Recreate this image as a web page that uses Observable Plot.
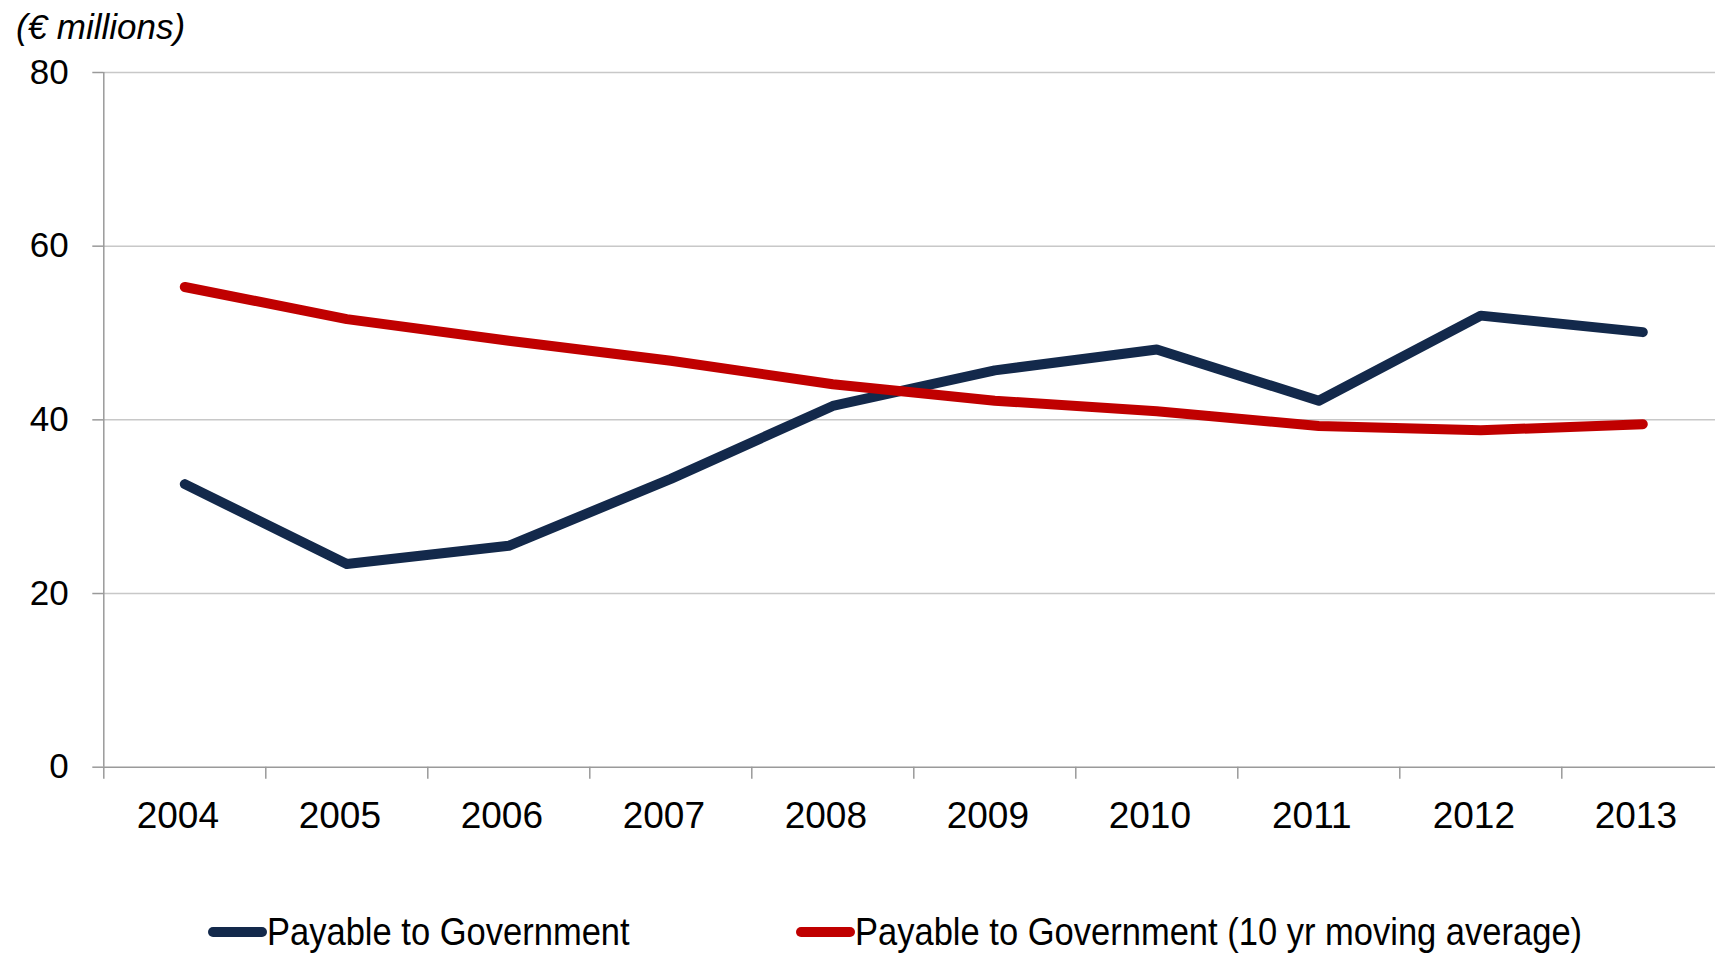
<!DOCTYPE html>
<html>
<head>
<meta charset="utf-8">
<script src="https://cdn.jsdelivr.net/npm/d3@7"></script>
<script src="https://cdn.jsdelivr.net/npm/@observablehq/plot@0.6"></script>
<style>
  html, body { margin: 0; padding: 0; background: white; overflow: hidden; }
  body { width: 1715px; height: 954px; font-family: "Liberation Sans", Arial, sans-serif; }
  #title { height: 44px; line-height: 44px; padding-top: 5px; padding-left: 16px; font-size: 35px; font-style: italic; color: #000; }
  #legend { position: relative; height: 100px; }
  .item { position: absolute; top: 58px; height: 40px; display: flex; align-items: center; color: #000; white-space: nowrap; }
  .sw { width: 59px; height: 10px; border-radius: 5px; flex: none; }
  .tx { font-size: 39px; display: inline-block; transform: scaleX(0.885); transform-origin: left center; }
</style>
</head>
<body>
<div id="title">(€ millions)</div>
<div id="chart"></div>
<div id="legend"></div>
<script>
const years = [2004, 2005, 2006, 2007, 2008, 2009, 2010, 2011, 2012, 2013];
const payable = [32.6, 23.4, 25.5, 33.2, 41.6, 45.7, 48.1, 42.2, 52.0, 50.1];
const movingAvg = [55.3, 51.6, 49.1, 46.8, 44.1, 42.2, 41.0, 39.3, 38.8, 39.5];
const yTicks = [0, 20, 40, 60, 80];
const seriesNames = ["Payable to Government", "Payable to Government (10 yr moving average)"];
const seriesColors = ["#13294b", "#c00000"];

const dataPay = years.map((y, i) => ({year: y, value: payable[i]}));
const dataAvg = years.map((y, i) => ({year: y, value: movingAvg[i]}));
const boundaries = years.map(y => y - 0.5).concat([years[years.length - 1] + 0.5]);

const gridColor = "#c8c8c8";
const axisColor = "#9a9a9a";

const chart = Plot.plot({
  width: 1715,
  height: 805,
  marginLeft: 103.3,
  marginRight: 0,
  marginTop: 23,
  marginBottom: 87.3,
  style: {fontFamily: "'Liberation Sans', Arial, sans-serif", background: "white"},
  x: {domain: [boundaries[0], boundaries[boundaries.length - 1]], range: [103.3, 1723.3]},
  y: {domain: [0, 80]},
  marks: [
    Plot.ruleY(yTicks.filter(t => t > 0), {stroke: gridColor, strokeWidth: 1.5}),
    Plot.ruleY([0], {stroke: axisColor, strokeWidth: 1.5}),
    Plot.ruleX([boundaries[0]], {y1: 0, y2: 80, stroke: axisColor, strokeWidth: 1.5}),
    Plot.axisY({ticks: yTicks, tickSize: 11, tickPadding: 24, fontSize: 35, stroke: axisColor, fill: "#000", label: null, strokeWidth: 1.5}),
    Plot.axisX({ticks: boundaries, tickSize: 12, tickFormat: () => "", stroke: axisColor, label: null, strokeWidth: 1.5}),
    Plot.axisX({ticks: years, tickSize: 0, tickPadding: 35, dx: -7, fontSize: 37, fill: "#000", tickFormat: d => String(d), label: null}),
    Plot.line(dataPay, {x: "year", y: "value", stroke: seriesColors[0], strokeWidth: 10, strokeLinecap: "round", strokeLinejoin: "round"}),
    Plot.line(dataAvg, {x: "year", y: "value", stroke: seriesColors[1], strokeWidth: 10, strokeLinecap: "round", strokeLinejoin: "round"})
  ]
});
document.getElementById("chart").appendChild(chart);

const legend = document.getElementById("legend");
const lefts = [208, 796];
seriesNames.forEach((name, i) => {
  const item = document.createElement("div");
  item.className = "item";
  item.style.left = lefts[i] + "px";
  const sw = document.createElement("span");
  sw.className = "sw";
  sw.style.background = seriesColors[i];
  const tx = document.createElement("span");
  tx.className = "tx";
  tx.textContent = name;
  item.appendChild(sw);
  item.appendChild(tx);
  legend.appendChild(item);
});
</script>
</body>
</html>
